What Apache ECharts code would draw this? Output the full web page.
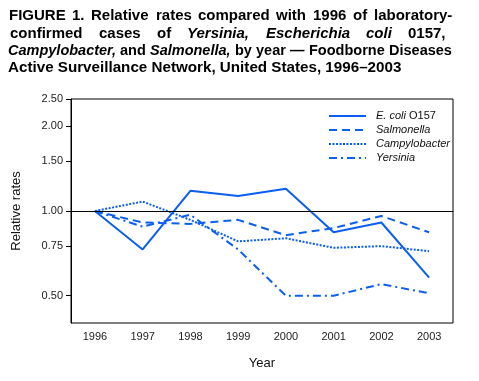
<!DOCTYPE html>
<html>
<head>
<meta charset="utf-8">
<script src="https://cdn.jsdelivr.net/npm/echarts@6/dist/echarts.min.js"></script>
<style>html,body{margin:0;padding:0;background:#fff;}#c{width:479px;height:381px;}</style>
</head>
<body>
<div id="c"></div>
<script>
const years = ['1996','1997','1998','1999','2000','2001','2002','2003'];
const ecoli = [1.00, 0.73, 1.18, 1.13, 1.20, 0.84, 0.91, 0.58];
const salmonella = [1.00, 0.91, 0.90, 0.93, 0.82, 0.87, 0.96, 0.84];
const campylobacter = [1.00, 1.08, 0.93, 0.78, 0.80, 0.74, 0.75, 0.72];
const yersinia = [1.00, 0.88, 0.97, 0.73, 0.50, 0.50, 0.55, 0.51];
const yTicks = [0.50, 0.75, 1.00, 1.50, 2.00, 2.50];
const yMin = 0.4, yMax = 2.5;
const seriesNames = ['E. coli O157', 'Salmonella', 'Campylobacter', 'Yersinia'];

const FONT = '"Liberation Sans", Arial, Helvetica, sans-serif';
const BLUE = '#0a5ff0';
const ln = Math.log;

const chart = echarts.init(document.getElementById('c'));

const measureCtx = document.createElement('canvas').getContext('2d');
function fontStr(italic, size) { return (italic ? 'italic ' : '') + 'bold ' + size + 'px ' + FONT; }
function justifyRow(words, y, size, x0, x1, out) {
  const widths = words.map(w => { measureCtx.font = fontStr(!!w[1], size); return measureCtx.measureText(w[0]).width; });
  const total = widths.reduce((a, b) => a + b, 0);
  const gap = words.length > 1 ? (x1 - x0 - total) / (words.length - 1) : 0;
  let x = x0;
  words.forEach((w, i) => {
    out.push({ type: 'text', left: Math.round(x), top: y,
      style: { text: w[0], fontSize: size, fontWeight: 'bold', fontStyle: w[1] ? 'italic' : 'normal',
               fontFamily: FONT, fill: '#000' } });
    x += widths[i] + gap;
  });
}
const graphics = [];
justifyRow([['FIGURE'], ['1.'], ['Relative'], ['rates'], ['compared'], ['with'], ['1996'], ['of'], ['laboratory-']],
  8, 15, 9, 452, graphics);
justifyRow([['confirmed'], ['cases'], ['of'], ['Yersinia,', 1], ['Escherichia', 1], ['coli', 1], ['0157,']],
  26, 15, 10, 446, graphics);
justifyRow([['Campylobacter,', 1], ['and'], ['Salmonella,', 1], ['by'], ['year'], ['—'], ['Foodborne'], ['Diseases']],
  43, 14.5, 8, 452, graphics);
graphics.push({ type: 'text', left: 8, top: 60,
  style: { text: 'Active Surveillance Network, United States, 1996–2003', fontSize: 15.2, fontWeight: 'bold',
           fontFamily: FONT, fill: '#000' } });

function mkSeries(name, data, dash, extra) {
  return Object.assign({
    name: name, type: 'line', symbol: 'none', data: data.map(v => ln(v)),
    lineStyle: { color: BLUE, width: 2, type: dash },
    itemStyle: { color: BLUE },
    emphasis: { disabled: true }
  }, extra || {});
}

chart.setOption({
  animation: false,
  backgroundColor: '#fff',
  graphic: graphics,
  grid: { left: 71, top: 99, right: 26, bottom: 58, show: true, borderColor: '#000', borderWidth: 1 },
  legend: {
    orient: 'vertical', left: 323, top: 104, itemWidth: 37, itemHeight: 14, itemGap: 0,
    data: seriesNames,
    itemStyle: { opacity: 0 },
    formatter: n => n === 'E. coli O157' ? '{i|E. coli} {n|O157}' : '{i|' + n + '}',
    textStyle: { fontFamily: FONT, fontSize: 11, color: '#111', padding: [0, 0, 0, 5], lineHeight: 14,
      rich: { i: { fontStyle: 'italic', fontFamily: FONT, fontSize: 11, color: '#111', lineHeight: 14 },
              n: { fontFamily: FONT, fontSize: 11, color: '#111', lineHeight: 14 } } }
  },
  xAxis: {
    type: 'category', data: years, boundaryGap: true,
    name: 'Year', nameLocation: 'middle', nameGap: 34,
    nameTextStyle: { fontFamily: FONT, fontSize: 13, color: '#111' },
    axisLine: { lineStyle: { color: '#000', width: 1 } },
    axisTick: { alignWithLabel: true, length: 6, lineStyle: { color: '#000' } },
    axisLabel: { fontFamily: FONT, fontSize: 11, color: '#222', margin: 8 },
    splitLine: { show: false }
  },
  yAxis: {
    type: 'value', min: ln(yMin), max: ln(yMax),
    name: 'Relative rates', nameLocation: 'middle', nameGap: 48, nameRotate: 90,
    nameTextStyle: { fontFamily: FONT, fontSize: 13, color: '#111' },
    axisLine: { show: true, lineStyle: { color: '#000', width: 1 } },
    axisTick: { show: true, length: 5, customValues: yTicks.map(ln), lineStyle: { color: '#000' } },
    axisLabel: { fontFamily: FONT, fontSize: 11, color: '#222', margin: 8,
      customValues: yTicks.map(ln), formatter: v => Math.exp(v).toFixed(2) },
    splitLine: { show: false }
  },
  series: [
    mkSeries(seriesNames[0], ecoli, 'solid', {
      markLine: { silent: true, symbol: 'none', label: { show: false },
        lineStyle: { color: '#000', width: 1, type: 'solid' }, data: [{ yAxis: ln(1) }] }
    }),
    mkSeries(seriesNames[1], salmonella, [8, 5]),
    mkSeries(seriesNames[2], campylobacter, [2, 1.5]),
    mkSeries(seriesNames[3], yersinia, [8, 4, 2, 4])
  ]
});
</script>
</body>
</html>
